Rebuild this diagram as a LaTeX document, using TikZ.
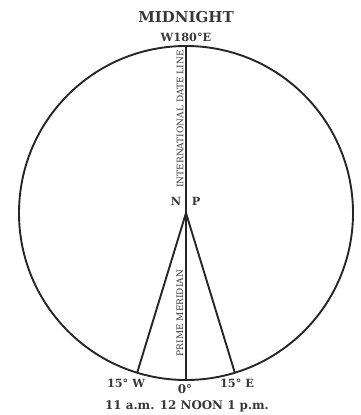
\documentclass[tikz,border=0pt]{standalone}
\usepackage{fontspec}
\setmainfont{DejaVu Serif}
\usetikzlibrary{calc}
\begin{document}
\begin{tikzpicture}[x=1pt,y=-1pt,
  ink/.style={draw=black!85,line width=1.9pt},
  lbl/.style={text=black!78,font=\bfseries\fontsize{11.3}{12}\selectfont,inner sep=0pt},
  rot/.style={text=black!78,font=\fontsize{9}{9}\selectfont,inner sep=0pt,rotate=90}]
\useasboundingbox (0,0) rectangle (360,415);
\coordinate (C) at (186,213);
\coordinate (T) at (186,46);
\coordinate (B) at (186,380);
\coordinate (W) at ($(C)+(107:167)$);
\coordinate (E) at ($(C)+(73:167)$);
\draw[ink] (C) circle (167pt);
\draw[ink] (T) -- (B);
\draw[ink,line join=miter] (W) -- (C) -- (E);
\node[lbl,font=\bfseries\fontsize{15}{16}\selectfont] (mid) at (186,17) {MIDNIGHT};
\node[lbl] (w180) at (186,37) {W180°E};
\node[lbl] (n) at (176,201) {N};
\node[lbl] (p) at (196,201) {P};
\node[rot] (idl) at (180,119) {INTERNATIONAL DATE LINE};
\node[rot] (pm) at (180,313) {PRIME MERIDIAN};
\node[lbl] (w15) at (126,383) {15° W};
\node[lbl] (e15) at (237,383) {15° E};
\node[lbl,font=\bfseries\fontsize{12}{12}\selectfont] (zero) at (185,389) {0°};
\node[lbl,font=\bfseries\fontsize{11.9}{12}\selectfont] (times) at (187,406) {11 a.m. 12 NOON 1 p.m.};
\end{tikzpicture}
\end{document}
